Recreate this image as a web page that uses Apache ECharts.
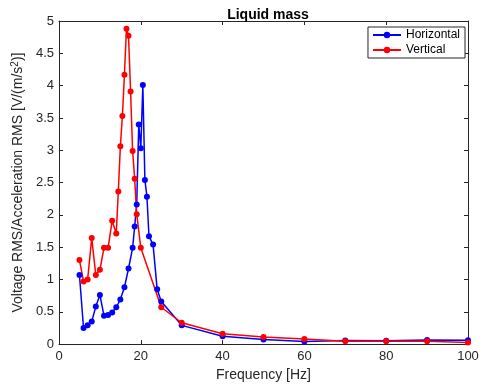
<!DOCTYPE html>
<html><head><meta charset="utf-8">
<script src="https://cdn.jsdelivr.net/npm/echarts@6/dist/echarts.min.js"></script>
<style>html,body{margin:0;padding:0;background:#fff}#c{width:484px;height:387px}</style>
</head><body><div id="c"></div>
<script>
var horizX = [5,6,7,8,9,10,11,12,13,14,15,16,17,18,18.5,19,19.5,20,20.5,21,21.5,22,23,24,25,30,40,50,60,70,80,90,100];
var horizY = [1.07,0.25,0.29,0.35,0.58,0.76,0.44,0.45,0.49,0.57,0.69,0.88,1.17,1.49,1.82,2.16,3.40,3.03,4.01,2.54,2.28,1.67,1.54,0.85,0.66,0.29,0.12,0.07,0.04,0.055,0.05,0.065,0.06];
var vertX = [5,6,7,8,9,10,11,12,13,14,14.5,15,15.5,16,16.5,17,17.5,18,18.5,19,20,25,30,40,50,60,70,80,90,100];
var vertY = [1.30,0.97,1.0,1.64,1.07,1.15,1.49,1.49,1.91,1.71,2.36,3.06,3.53,4.17,4.88,4.77,3.91,2.99,2.56,2.01,1.49,0.57,0.33,0.16,0.11,0.08,0.045,0.045,0.045,0.026];
var xTicks = [0,20,40,60,80,100];
var yTicks = [0,0.5,1,1.5,2,2.5,3,3.5,4,4.5,5];

function pairs(xs, ys){ return xs.map(function(x,i){return [x, ys[i]];}); }
var font = 'Liberation Sans, Arial, Helvetica, sans-serif';
var axCol = '#262626';
var chart = echarts.init(document.getElementById('c'));
var baseAxis = {
  axisLine:{show:true,onZero:false,lineStyle:{color:axCol,width:1}},
  axisTick:{show:true,inside:true,length:4,lineStyle:{color:axCol}},
  splitLine:{show:false}
};
chart.setOption({
  animation:false,
  title:{text:'Liquid mass',left:263,top:3,textAlign:'center',
    textStyle:{fontFamily:font,fontSize:14,fontWeight:'bold',color:'#000'}},
  grid:{left:59,right:16,top:21,bottom:41},
  legend:{
    right:19,top:27,orient:'vertical',itemWidth:28,itemHeight:8,itemGap:3,
    padding:[2,5,2,4],borderColor:axCol,borderWidth:1,backgroundColor:'#fff',
    textStyle:{fontFamily:font,fontSize:12,color:'#000'},
    data:['Horizontal','Vertical']
  },
  xAxis:[
    Object.assign({type:'value',min:0,max:100,interval:20,position:'bottom',
      name:'Frequency [Hz]',nameLocation:'middle',nameGap:23,
      nameTextStyle:{fontFamily:font,fontSize:14,color:axCol},
      axisLabel:{fontFamily:font,fontSize:13,color:axCol,margin:6,
        formatter:function(v){return xTicks.indexOf(v)>=0?String(v):'';}}},baseAxis),
    Object.assign({type:'value',min:0,max:100,interval:20,position:'top',
      axisLabel:{show:false}},baseAxis)
  ],
  yAxis:[
    Object.assign({type:'value',min:0,max:5,interval:0.5,position:'left',
      name:'Voltage RMS/Acceleration RMS [V/(m/s{sup|2})]',nameLocation:'middle',nameGap:27,
      nameTextStyle:{fontFamily:font,fontSize:14,color:axCol,
        rich:{sup:{fontFamily:font,fontSize:10,color:axCol,verticalAlign:'top',padding:[0,0,5,0]}}},
      axisLabel:{fontFamily:font,fontSize:13,color:axCol,margin:5,
        formatter:function(v){return yTicks.indexOf(v)>=0?String(v):'';}}},baseAxis),
    Object.assign({type:'value',min:0,max:5,interval:0.5,position:'right',
      axisLabel:{show:false}},baseAxis)
  ],
  series:[
    {name:'Horizontal',type:'line',data:pairs(horizX,horizY),
      symbol:'circle',symbolSize:6,showSymbol:true,
      lineStyle:{color:'#0000ff',width:1.5},itemStyle:{color:'#0000ff'}},
    {name:'Vertical',type:'line',data:pairs(vertX,vertY),
      symbol:'circle',symbolSize:6,showSymbol:true,
      lineStyle:{color:'#ff0000',width:1.5},itemStyle:{color:'#ff0000'}}
  ]
});
</script></body></html>
